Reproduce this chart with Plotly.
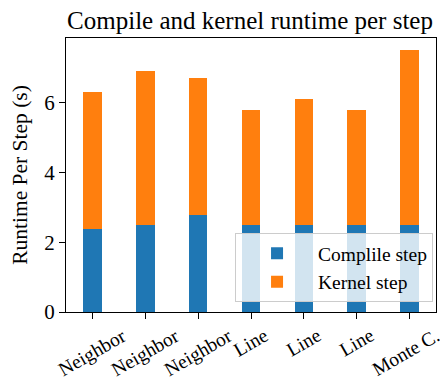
import plotly.graph_objects as go

labels = ["Neighbor", "Neighbor", "Neighbor", "Line", "Line", "Line", "Monte C."]
compile_step = [2.37, 2.5, 2.78, 2.5, 2.5, 2.5, 2.5]
total_step = [6.3, 6.9, 6.7, 5.8, 6.1, 5.8, 7.5]
kernel_step = [t - c for t, c in zip(total_step, compile_step)]
xpos = list(range(len(labels)))

FONT = "Liberation Serif"

fig = go.Figure()
fig.add_trace(go.Bar(x=xpos, y=compile_step, name="Complile step", width=0.35,
                     marker=dict(color="#1f77b4", line=dict(width=0))))
fig.add_trace(go.Bar(x=xpos, y=kernel_step, name="Kernel step", width=0.35,
                     marker=dict(color="#ff7f0e", line=dict(width=0))))

# rotated category labels, centred under each tick (matplotlib style)
for xi, lab in zip(xpos, labels):
    fig.add_annotation(x=xi, y=0, xref="x", yref="paper", text=lab, showarrow=False,
                       textangle=-30, xanchor="center", yanchor="top", yshift=-10,
                       xshift=-4 if xi == xpos[-1] else 0,
                       font=dict(family=FONT, size=19.5, color="black"))

fig.update_layout(
    width=440, height=374,
    barmode="stack",
    plot_bgcolor="white", paper_bgcolor="white",
    margin=dict(l=58, r=12, t=30, b=70, autoexpand=False),
    font=dict(family=FONT, size=20, color="black"),
    title=dict(text="Compile and kernel runtime per step", x=0.55, xanchor="center",
               y=0.99, yanchor="top", font=dict(family=FONT, size=25)),
    legend=dict(x=0.992, y=0.036, xanchor="right", yanchor="bottom",
                bgcolor="rgba(255,255,255,0.8)", bordercolor="#cccccc", borderwidth=1,
                traceorder="normal", font=dict(size=19.5), tracegroupgap=0,
                itemwidth=72),
    showlegend=True,
)
fig.update_xaxes(range=[-0.5, 6.5], tickvals=xpos, showticklabels=False,
                 showline=True, linecolor="black", linewidth=1.2, mirror=True,
                 ticks="outside", ticklen=6, tickcolor="black", showgrid=False,
                 automargin=False)
fig.update_yaxes(range=[0, 7.85], tickvals=[0, 2, 4, 6],
                 showline=True, linecolor="black", linewidth=1.2, mirror=True,
                 ticks="outside", ticklen=6, tickcolor="black", showgrid=False,
                 zeroline=False, tickfont=dict(size=21), automargin=False,
                 title=dict(text="Runtime Per Step (s)", font=dict(size=21.5), standoff=10))

fig.write_html("out.html")
